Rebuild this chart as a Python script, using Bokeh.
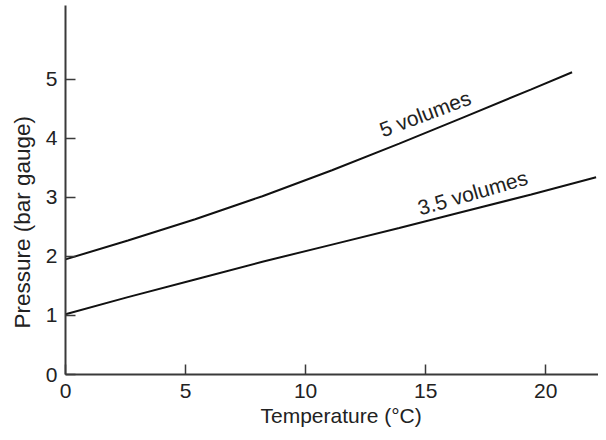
from bokeh.plotting import figure
from bokeh.models import Label, Range1d, FixedTicker, Title
from bokeh.embed import file_html
from bokeh.resources import INLINE

# Data
temp_5 = [0, 2.6, 5.4, 8.2, 11.1, 13.9, 16.6, 19.4, 21.1]
pres_5 = [1.95, 2.27, 2.63, 3.02, 3.46, 3.91, 4.36, 4.83, 5.12]
temp_35 = [0, 2.6, 5.4, 8.2, 11.1, 13.9, 16.6, 19.4, 22.1]
pres_35 = [1.02, 1.31, 1.61, 1.91, 2.20, 2.48, 2.76, 3.05, 3.34]
x_ticks = [0, 5, 10, 15, 20]
y_ticks = [0, 1, 2, 3, 4, 5]
series_labels = ["5 volumes", "3.5 volumes"]
x_title = "Temperature (°C)"
y_title = "Pressure (bar gauge)"

FONT = "Liberation Sans"
FS = "21px"
TXT = "#222222"

p = figure(width=598, height=432, output_backend="svg", toolbar_location=None,
           x_range=Range1d(0, 22.2), y_range=Range1d(0, 6.25),
           min_border_left=63, min_border_right=0, min_border_top=5, min_border_bottom=58)
p.grid.visible = False
p.outline_line_color = None
p.background_fill_color = "white"
p.border_fill_color = "white"

for ax in (p.xaxis[0], p.yaxis[0]):
    ax.axis_line_color = "#3a3a3a"
    ax.axis_line_width = 2
    ax.major_tick_in = 10
    ax.major_tick_out = 0
    ax.major_tick_line_color = "#3a3a3a"
    ax.major_tick_line_width = 1.5
    ax.minor_tick_line_color = None
    ax.major_label_text_font = FONT
    ax.major_label_text_font_size = FS
    ax.major_label_text_color = TXT

p.xaxis.ticker = FixedTicker(ticks=x_ticks)
p.yaxis.ticker = FixedTicker(ticks=y_ticks)
p.xaxis.major_label_standoff = 9
p.yaxis.major_label_standoff = 8

xt = Title(text=x_title, align="left", offset=195, standoff=2,
           text_font=FONT, text_font_size=FS, text_font_style="normal",
           text_color=TXT)
p.add_layout(xt, "below")

yt = Title(text=y_title, align="left", offset=46, standoff=15,
           text_font=FONT, text_font_size="22.5px", text_font_style="normal",
           text_color=TXT)
p.add_layout(yt, "left")

p.line(temp_5, pres_5, line_color="#111111", line_width=2)
p.line(temp_35, pres_35, line_color="#111111", line_width=2)

p.add_layout(Label(x=14.98, y=4.42, text=series_labels[0], angle=0.36,
                   text_align="center", text_baseline="middle",
                   text_font=FONT, text_font_size=FS, text_color=TXT))
p.add_layout(Label(x=16.96, y=3.08, text=series_labels[1], angle=0.28,
                   text_align="center", text_baseline="middle",
                   text_font=FONT, text_font_size=FS, text_color=TXT))

open("out.html", "w").write(file_html(p, INLINE))
